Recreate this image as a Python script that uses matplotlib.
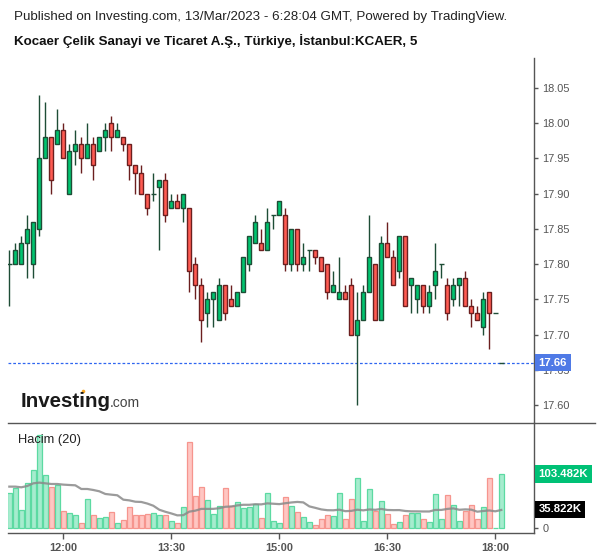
import matplotlib
matplotlib.use('Agg')
import matplotlib.pyplot as plt
import matplotlib.transforms as mtransforms
from matplotlib.lines import Line2D
import numpy as np
import pandas as pd

plt.rcParams['font.family'] = ['Liberation Sans', 'DejaVu Sans']

# ---------------- data ----------------
start_time = '2023-03-10 11:15'
tick_times = ['12:00', '13:30', '15:00', '16:30', '18:00']

opens = [17.80, 17.80, 17.80, 17.83, 17.80, 17.85, 17.95, 17.98, 17.97, 17.99,
         17.90, 17.96, 17.97, 17.95, 17.97, 17.96, 17.98, 18.00, 17.98, 17.98,
         17.97, 17.94, 17.93, 17.90, 17.90, 17.91, 17.92, 17.88, 17.89, 17.88,
         17.88, 17.80, 17.77, 17.73, 17.75, 17.72, 17.77, 17.75, 17.74, 17.76,
         17.80, 17.83, 17.83, 17.82, 17.87, 17.87, 17.87, 17.80, 17.85, 17.80,
         17.82, 17.82, 17.81, 17.80, 17.76, 17.75, 17.76, 17.77, 17.70, 17.72,
         17.76, 17.80, 17.72, 17.83, 17.81, 17.79, 17.84, 17.77, 17.75, 17.77,
         17.74, 17.77, 17.80, 17.77, 17.75, 17.77, 17.78, 17.74, 17.73, 17.71,
         17.76, 17.73, 17.66]
highs = [17.82, 17.83, 17.84, 17.87, 17.86, 18.04, 18.03, 17.98, 18.02, 18.00,
         17.97, 17.99, 17.98, 18.00, 17.98, 17.98, 18.00, 18.01, 18.00, 17.98,
         17.97, 17.94, 17.94, 17.90, 17.93, 17.92, 17.93, 17.90, 17.90, 17.90,
         17.88, 17.81, 17.78, 17.76, 17.76, 17.78, 17.77, 17.77, 17.76, 17.81,
         17.84, 17.87, 17.85, 17.88, 17.87, 17.89, 17.88, 17.85, 17.85, 17.83,
         17.82, 17.82, 17.81, 17.80, 17.79, 17.81, 17.77, 17.78, 17.76, 17.77,
         17.87, 17.80, 17.84, 17.86, 17.82, 17.84, 17.84, 17.78, 17.77, 17.77,
         17.77, 17.83, 17.80, 17.78, 17.78, 17.78, 17.79, 17.75, 17.74, 17.76,
         17.76, 17.73, 17.66]
lows = [17.74, 17.80, 17.80, 17.78, 17.78, 17.84, 17.95, 17.90, 17.97, 17.95,
        17.90, 17.94, 17.93, 17.95, 17.92, 17.96, 17.96, 17.96, 17.98, 17.96,
        17.92, 17.90, 17.90, 17.87, 17.89, 17.82, 17.86, 17.88, 17.88, 17.86,
        17.76, 17.75, 17.69, 17.71, 17.71, 17.72, 17.72, 17.74, 17.74, 17.76,
        17.79, 17.83, 17.82, 17.82, 17.85, 17.87, 17.79, 17.79, 17.79, 17.79,
        17.79, 17.80, 17.79, 17.75, 17.76, 17.75, 17.75, 17.70, 17.60, 17.72,
        17.76, 17.72, 17.72, 17.81, 17.77, 17.78, 17.74, 17.73, 17.73, 17.73,
        17.73, 17.75, 17.78, 17.72, 17.74, 17.74, 17.74, 17.71, 17.72, 17.70,
        17.68, 17.73, 17.66]
closes = [17.80, 17.82, 17.83, 17.85, 17.86, 17.95, 17.98, 17.92, 17.99, 17.95,
          17.96, 17.97, 17.95, 17.97, 17.94, 17.98, 17.99, 17.98, 17.99, 17.97,
          17.94, 17.93, 17.90, 17.88, 17.90, 17.92, 17.87, 17.89, 17.88, 17.90,
          17.79, 17.77, 17.72, 17.75, 17.76, 17.77, 17.73, 17.74, 17.76, 17.81,
          17.84, 17.86, 17.82, 17.86, 17.87, 17.89, 17.80, 17.85, 17.80, 17.81,
          17.82, 17.81, 17.79, 17.76, 17.77, 17.76, 17.75, 17.70, 17.72, 17.76,
          17.81, 17.72, 17.83, 17.81, 17.77, 17.84, 17.74, 17.78, 17.77, 17.74,
          17.76, 17.79, 17.80, 17.73, 17.77, 17.78, 17.74, 17.73, 17.72, 17.75,
          17.73, 17.73, 17.66]
volumes_k = [67, 76, 35, 87, 112, 178, 102, 78, 83, 33,
             29, 25, 10, 55, 25, 19, 21, 31, 10, 15,
             40, 25, 25, 27, 29, 25, 25, 14, 10, 40,
             164, 62, 78, 54, 27, 43, 76, 43, 50, 39,
             40, 46, 19, 67, 14, 10, 59, 43, 31, 22,
             12, 6, 18, 25, 23, 67, 18, 55, 95, 14,
             74, 33, 52, 27, 8, 12, 25, 29, 30, 18,
             12, 65, 18, 63, 44, 14, 33, 44, 18, 40,
             95, 0, 103.482]
# 20-period volume MA for the first 19 bars (depends on history before the window)
vol_ma_head = [79.4, 79.4, 78.1, 80.6, 85.7, 87.0, 85.7, 84.4, 84.4, 83.2,
               82.5, 81.9, 74.9, 74.9, 73.0, 70.5, 65.4, 64.1, 62.9]
price_ticks = [17.60, 17.65, 17.70, 17.75, 17.80, 17.85, 17.90, 17.95, 18.00, 18.05]
last_price = 17.66
last_volume = 103.482
last_volume_label = '103.482K'
ma_last = 35.822
ma_last_label = '35.822K'

title1 = 'Published on Investing.com, 13/Mar/2023 - 6:28:04 GMT, Powered by TradingView.'
title2 = 'Kocaer Çelik Sanayi ve Ticaret A.Ş., Türkiye, İstanbul:KCAER, 5'

# ---------------- styling ----------------
W, H = 600, 558
GREEN = '#00c46f'
RED = '#ff5b52'
GREEN_EDGE = '#1e4d36'
RED_EDGE = '#6b1f1f'
VG_FILL = '#a6ecce'
VG_EDGE = '#5cdaa2'
VR_FILL = '#ffc6c2'
VR_EDGE = '#f6958e'
AXC = '#555555'

o = np.array(opens); h = np.array(highs); l = np.array(lows); c = np.array(closes)
n = len(o)
x = np.arange(n)
times = pd.date_range(start_time, periods=n, freq='5min')
labels = times.strftime('%H:%M')
tick_idx = [i for i, t in enumerate(labels) if t in tick_times]

fig = plt.figure(figsize=(W / 100, H / 100), dpi=100)
fig.patch.set_facecolor('white')

def fx(px):
    return px / W

def fy(py):
    return 1 - py / H

ax_p = fig.add_axes([fx(8), fy(423), fx(526), 365 / H])
ax_v = fig.add_axes([fx(8), fy(533), fx(526), 110 / H])

xlim = (-0.22, 87.45)
for ax in (ax_p, ax_v):
    ax.set_xlim(*xlim)
    ax.set_facecolor('none')
    for s in ('top', 'left', 'bottom'):
        ax.spines[s].set_visible(False)
    ax.spines['right'].set_color(AXC)
    ax.spines['right'].set_linewidth(1.0)

# ---- price candles ----
up = c >= o
wick_col = [GREEN_EDGE if u else RED_EDGE for u in up]
ax_p.vlines(x, l, h, colors=wick_col, linewidth=1.0, zorder=2)
body_bottom = np.minimum(o, c)
body_h = np.abs(c - o)
nz = body_h > 1e-9
ax_p.bar(x[nz], body_h[nz], bottom=body_bottom[nz], width=0.7,
         color=[GREEN if u else RED for u in up[nz]],
         edgecolor=[GREEN_EDGE if u else RED_EDGE for u in up[nz]],
         linewidth=1.0, zorder=3)
dz = ~nz
ax_p.hlines(o[dz], x[dz] - 0.4, x[dz] + 0.4, colors=GREEN_EDGE, linewidth=1.0, zorder=3)

ax_p.axhline(last_price, color='#2f66f0', linewidth=0.9, linestyle=(0, (2.2, 1.6)), zorder=1)

ax_p.set_ylim(17.5744, 18.0926)
ax_p.yaxis.tick_right()
ax_p.set_yticks(price_ticks)
ax_p.set_yticklabels([f'{v:.2f}' for v in price_ticks])
ax_p.tick_params(axis='y', length=3, width=1, color=AXC, labelcolor=AXC,
                 labelsize=7.9, pad=3)
ax_p.set_xticks([])

blend_p = mtransforms.blended_transform_factory(ax_p.transAxes, ax_p.transData)
ax_p.text(1.0, last_price, f'{last_price:.2f}',
          transform=mtransforms.offset_copy(blend_p, fig=fig, x=4.5, y=0, units='dots'),
          ha='left', va='center', fontsize=8.2, fontweight='bold', color='white',
          bbox=dict(boxstyle='square,pad=0.32', fc='#4f7ae6', ec='none'),
          zorder=10, clip_on=False)

# ---- volume ----
vol = pd.Series(volumes_k, dtype=float)
ma = vol.rolling(20).mean()
ma.iloc[:len(vol_ma_head)] = vol_ma_head

ax_v.bar(x, vol, width=0.92,
         color=[VG_FILL if u else VR_FILL for u in up],
         edgecolor=[VG_EDGE if u else VR_EDGE for u in up],
         linewidth=0.9, zorder=2)
ax_v.plot(x, ma, color='#8a8a8a', linewidth=1.6, alpha=0.85, zorder=3)
ax_v.set_ylim(-8.95, 200.6)
ax_v.spines['bottom'].set_visible(True)
ax_v.spines['bottom'].set_color(AXC)
ax_v.spines['bottom'].set_linewidth(1.0)
ax_v.yaxis.tick_right()
ax_v.set_yticks([0])
ax_v.set_yticklabels(['0'])
ax_v.tick_params(axis='y', length=3, width=1, color=AXC, labelcolor=AXC,
                 labelsize=7.9, pad=3)
ax_v.set_xticks(tick_idx)
ax_v.set_xticklabels([labels[i] for i in tick_idx])
ax_v.tick_params(axis='x', length=4, width=1, color=AXC, labelcolor=AXC,
                 labelsize=7.9, pad=3)
for t in ax_v.get_xticklabels():
    t.set_fontweight('bold')

blend_v = mtransforms.blended_transform_factory(ax_v.transAxes, ax_v.transData)
off_v = mtransforms.offset_copy(blend_v, fig=fig, x=4.5, y=0, units='dots')
ax_v.text(1.0, last_volume, last_volume_label, transform=off_v,
          ha='left', va='center', fontsize=8.2, fontweight='bold', color='white',
          bbox=dict(boxstyle='square,pad=0.32', fc='#00c176', ec='none'),
          zorder=10, clip_on=False)
ax_v.text(1.0, ma_last, ma_last_label, transform=off_v,
          ha='left', va='center', fontsize=8.2, fontweight='bold', color='white',
          bbox=dict(boxstyle='square,pad=0.32', fc='#000000', ec='none'),
          zorder=10, clip_on=False)

# divider line between panels
fig.add_artist(Line2D([fx(8), fx(595)], [fy(423), fy(423)], color=AXC, linewidth=1.0))

# ---- texts ----
fig.text(fx(14), fy(17), title1, fontsize=9.6, color='#222222', va='center', ha='left')
fig.text(fx(14), fy(41), title2, fontsize=9.6, fontweight='bold', color='#111111',
         va='center', ha='left')
fig.text(fx(18), fy(440), 'Hacim (20)', fontsize=9.3, color='#222222', va='center', ha='left')

fig.text(fx(21), fy(407), 'Investing', fontsize=14.8, fontweight='bold', color='#1a1a1a',
         va='baseline', ha='left')
fig.text(fx(110), fy(407), '.com', fontsize=10, color='#444444', va='baseline', ha='left')
fig.add_artist(Line2D([fx(83)], [fy(391)], marker='o', markersize=2.6, color='#f5a623',
                      markeredgewidth=0))

fig.savefig('out.png', dpi=100, facecolor='white')
